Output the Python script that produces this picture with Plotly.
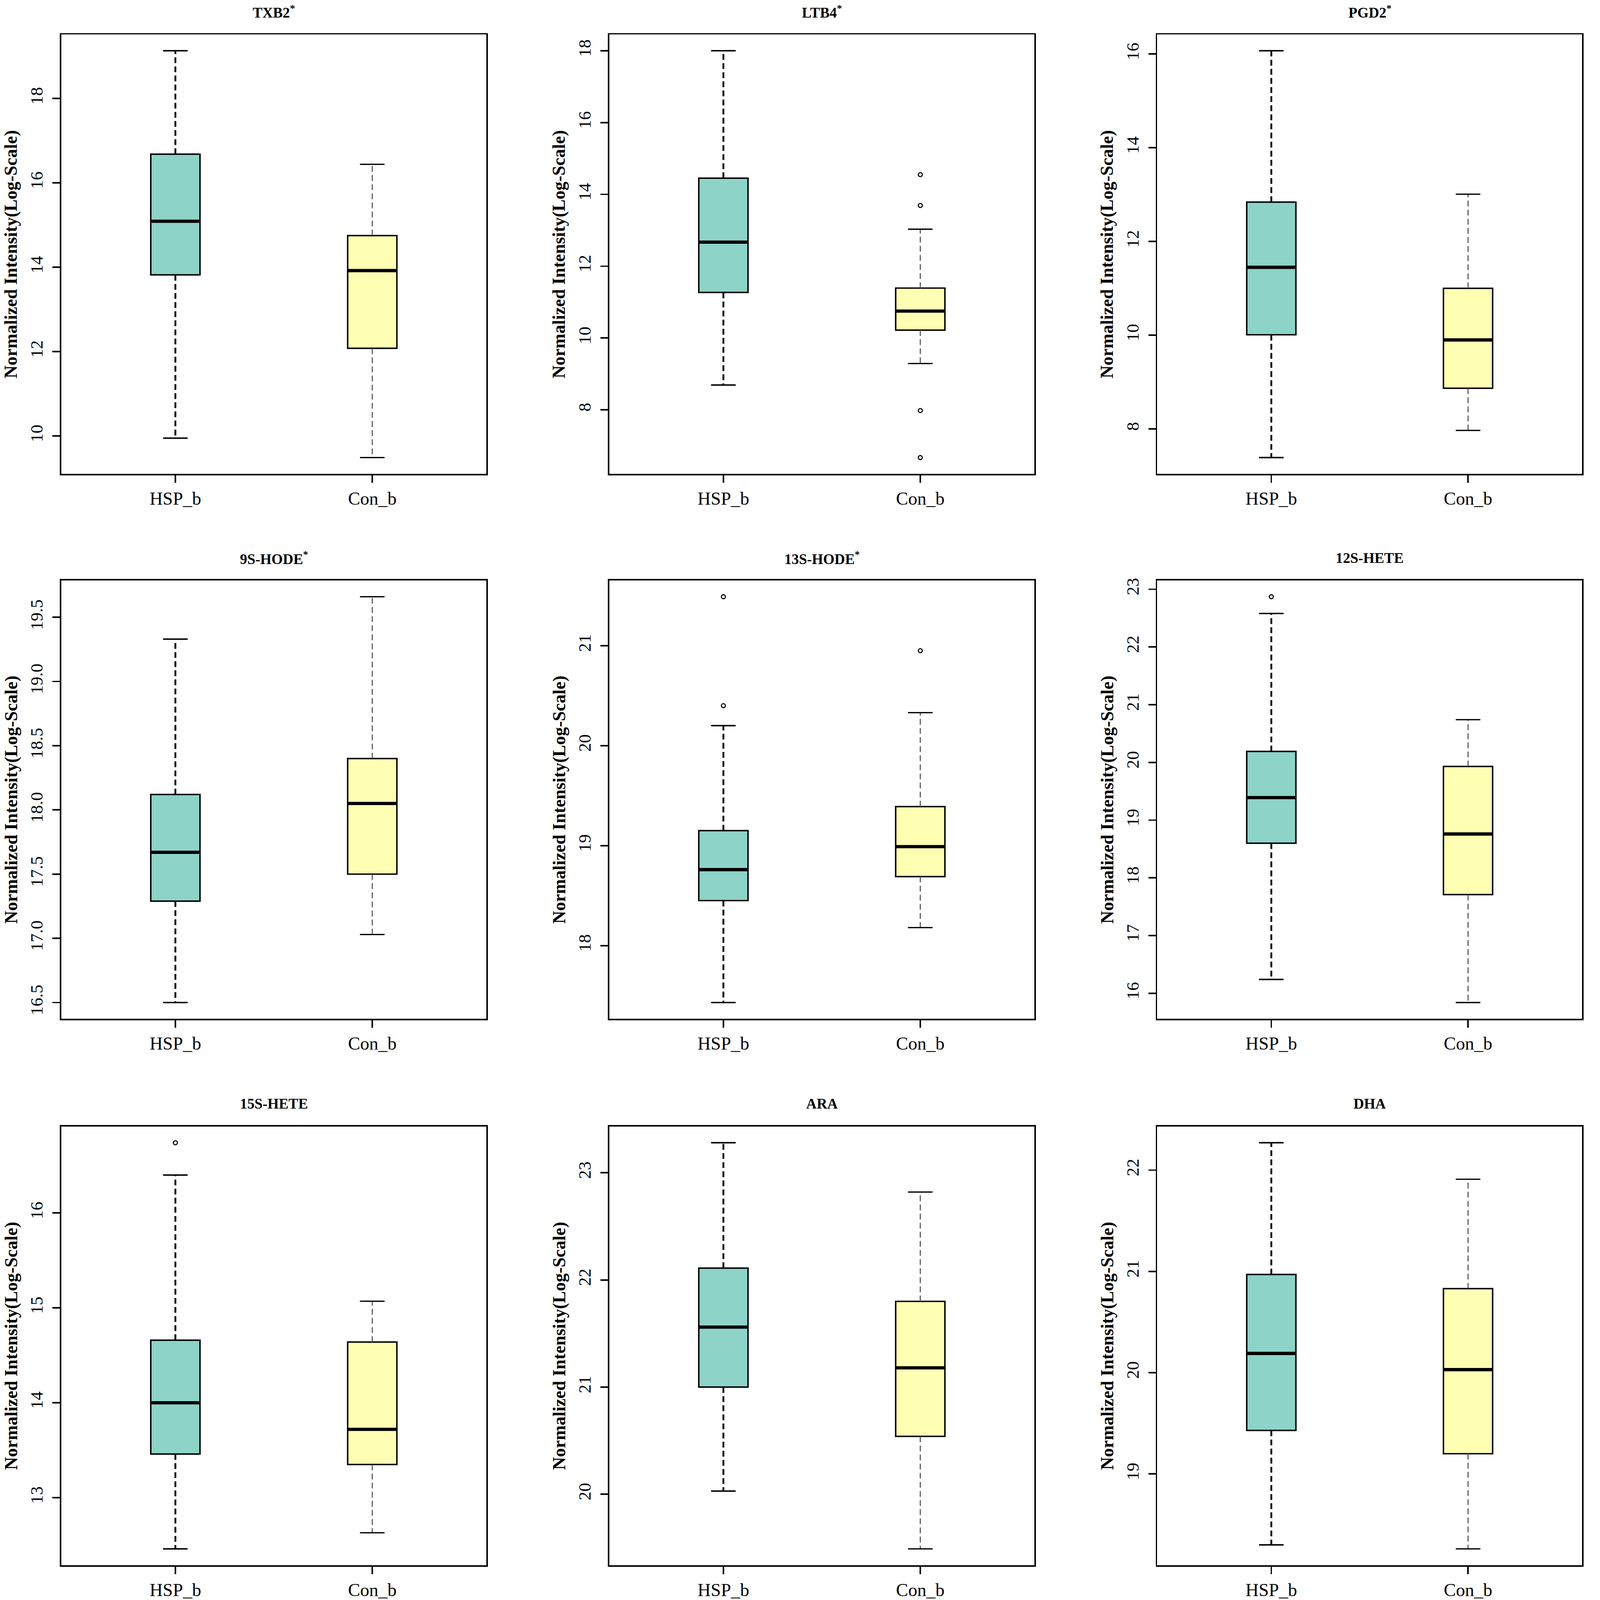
import plotly.graph_objects as go
from plotly.subplots import make_subplots

# ---------------- data ----------------
panels = ["TXB2", "LTB4", "PGD2", "9S-HODE", "13S-HODE", "12S-HETE", "15S-HETE", "ARA", "DHA"]
starred = [True, True, True, True, True, False, False, False, False]
groups = ["HSP_b", "Con_b"]
y_dtick = [2, 2, 2, 0.5, 1, 1, 1, 1, 1]
y_tickformat = ["d", "d", "d", ".1f", "d", "d", "d", "d", "d"]

hsp_lower = [9.95, 8.69, 7.39, 16.50, 17.43, 16.24, 12.46, 20.03, 18.30]
hsp_q1 = [13.82, 11.27, 10.01, 17.29, 18.45, 18.60, 13.46, 21.00, 19.43]
hsp_median = [15.09, 12.67, 11.45, 17.67, 18.76, 19.39, 14.00, 21.56, 20.19]
hsp_q3 = [16.68, 14.45, 12.84, 18.12, 19.15, 20.19, 14.66, 22.11, 20.97]
hsp_upper = [19.13, 18.00, 16.07, 19.33, 20.20, 22.58, 16.40, 23.28, 22.27]
hsp_outliers = [[], [], [], [], [21.49, 20.40], [22.87], [16.74], [], []]

con_lower = [9.49, 9.29, 7.97, 17.03, 18.18, 15.84, 12.63, 19.49, 18.26]
con_q1 = [12.08, 10.22, 8.87, 17.50, 18.69, 17.71, 13.35, 20.54, 19.20]
con_median = [13.92, 10.75, 9.90, 18.05, 18.99, 18.76, 13.72, 21.18, 20.03]
con_q3 = [14.75, 11.39, 11.00, 18.40, 19.39, 19.93, 14.64, 21.80, 20.83]
con_upper = [16.44, 13.03, 13.01, 19.66, 20.33, 20.74, 15.07, 22.82, 21.91]
con_outliers = [[], [14.55, 13.69, 7.98, 6.67], [], [], [20.95], [], [], [], []]

y_title = "Normalized Intensity(Log-Scale)"

# ---------------- styles ----------------
W, H = 4350, 4394
FONT = "Liberation Serif"
fills = ["#8DD3C7", "#FFFFB3"]
whisker_color = ["black", "#555555"]
whisker_width = [5, 3]
cap_width = [4, 3.5]
box_w = 0.25
col_px = [(168, 1336), (1673, 2841), (3178, 4345)]
row_px = [(88, 1299), (1593, 2801), (3098, 4307)]

fig = make_subplots(rows=3, cols=3, horizontal_spacing=0.05, vertical_spacing=0.05)

stats = [
    (hsp_lower, hsp_q1, hsp_median, hsp_q3, hsp_upper, hsp_outliers),
    (con_lower, con_q1, con_median, con_q3, con_upper, con_outliers),
]

annotations = []
for i, name in enumerate(panels):
    r, c = i // 3 + 1, i % 3 + 1
    allvals = []
    for g, (lo, q1, md, q3, up, outl) in enumerate(stats):
        pos = g + 1
        allvals += [lo[i], up[i]] + outl[i]
        # whiskers (dashed)
        fig.add_trace(go.Scatter(
            x=[pos, pos, None, pos, pos],
            y=[q3[i], up[i], None, q1[i], lo[i]],
            mode="lines", showlegend=False, hoverinfo="skip",
            line=dict(color=whisker_color[g], width=whisker_width[g], dash="16px,9px")),
            row=r, col=c)
        # caps
        fig.add_trace(go.Scatter(
            x=[pos - box_w / 4, pos + box_w / 4, None, pos - box_w / 4, pos + box_w / 4],
            y=[up[i], up[i], None, lo[i], lo[i]],
            mode="lines", showlegend=False, hoverinfo="skip",
            line=dict(color="black", width=cap_width[g])),
            row=r, col=c)
        # box
        fig.add_trace(go.Box(
            x=[pos], q1=[q1[i]], median=[md[i]], q3=[q3[i]],
            lowerfence=[q1[i]], upperfence=[q3[i]],
            width=box_w, whiskerwidth=0, fillcolor=fills[g],
            line=dict(color="black", width=4), boxpoints=False,
            showlegend=False, hoverinfo="skip"),
            row=r, col=c)
        # median
        fig.add_trace(go.Scatter(
            x=[pos - box_w / 2, pos + box_w / 2], y=[md[i], md[i]],
            mode="lines", showlegend=False, hoverinfo="skip",
            line=dict(color="black", width=9)),
            row=r, col=c)
        # outliers
        if outl[i]:
            fig.add_trace(go.Scatter(
                x=[pos] * len(outl[i]), y=outl[i], mode="markers",
                showlegend=False, hoverinfo="skip",
                marker=dict(symbol="circle-open", size=11, color="black",
                            line=dict(width=3, color="black"))),
                row=r, col=c)
    ymin, ymax = min(allvals), max(allvals)
    pad = 0.04 * (ymax - ymin)

    x0, x1 = col_px[c - 1]
    t0, t1 = row_px[r - 1]
    xd = [x0 / W, x1 / W]
    yd = [1 - t1 / H, 1 - t0 / H]
    fig.update_xaxes(domain=xd, range=[0.42, 2.58], tickmode="array",
                     tickvals=[1, 2], ticktext=groups,
                     showline=True, mirror=True, linecolor="black", linewidth=4,
                     ticks="outside", ticklen=21, tickwidth=4, tickcolor="black",
                     showgrid=False, zeroline=False,
                     tickfont=dict(family=FONT, size=50, color="black"),
                     row=r, col=c)
    fig.update_yaxes(domain=yd, range=[ymin - pad, ymax + pad], dtick=y_dtick[i],
                     tick0=0, tickformat=y_tickformat[i], tickangle=-90,
                     showline=True, mirror=True, linecolor="black", linewidth=4,
                     ticks="outside", ticklen=20, tickwidth=4, tickcolor="black",
                     showgrid=False, zeroline=False, ticklabelstandoff=8,
                     tickfont=dict(family=FONT, size=48, color="black"),
                     row=r, col=c)
    title = f"<b>{name}</b>" + ("<sup><b>*</b></sup>" if starred[i] else "")
    annotations.append(dict(text=title, xref="paper", yref="paper",
                            x=(x0 + x1) / 2 / W, y=1 - (t0 - 62) / H,
                            xanchor="center", yanchor="middle", showarrow=False,
                            font=dict(family=FONT, size=40, color="black")))
    annotations.append(dict(text=f"<b>{y_title}</b>", xref="paper", yref="paper",
                            x=(x0 - 138) / W, y=1 - (t0 + t1) / 2 / H,
                            xanchor="center", yanchor="middle", textangle=-90,
                            showarrow=False,
                            font=dict(family=FONT, size=49, color="black")))

fig.update_layout(width=W, height=H, margin=dict(l=0, r=0, t=0, b=0),
                  paper_bgcolor="white", plot_bgcolor="white",
                  annotations=annotations, showlegend=False,
                  font=dict(family=FONT, color="black"))

# fit the fixed-size figure into the actual browser viewport
post_script = """
var gd = document.getElementById('{plot_id}');
document.body.style.margin = '0';
document.body.style.overflow = 'hidden';
var s = Math.min(window.innerWidth / %d, window.innerHeight / %d);
if (s > 0 && s < 1) {
  gd.style.transformOrigin = '0 0';
  gd.style.transform = 'scale(' + s + ')';
}
""" % (W, H)

fig.write_html("out.html", post_script=post_script,
               config={"displayModeBar": False, "staticPlot": True})
